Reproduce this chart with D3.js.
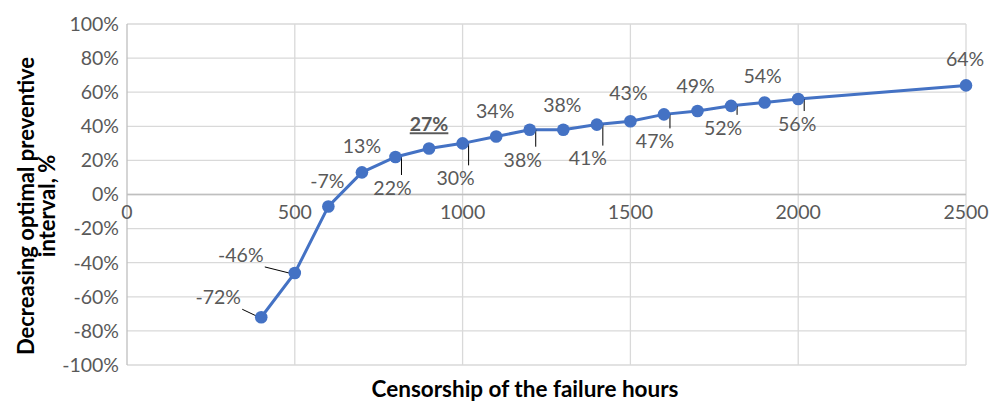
<!DOCTYPE html>
<html><head><meta charset="utf-8">
<script src="https://cdn.jsdelivr.net/npm/d3@7"></script>
<style>body{margin:0;background:#fff}svg{display:block}text{font-family:Lato,Carlito,"Open Sans",sans-serif}</style>
</head><body>
<svg id="c" width="997" height="403"></svg>
<script>
const hours = [400,500,600,700,800,900,1000,1100,1200,1300,1400,1500,1600,1700,1800,1900,2000,2500];
const values = [-72,-46,-7,13,22,27,30,34,38,38,41,43,47,49,52,54,56,64];
const xTicks = [0,500,1000,1500,2000,2500];
const yTicks = [-100,-80,-60,-40,-20,0,20,40,60,80,100];
// label placement: [dx, dy] of label centre relative to point, and whether a leader line is drawn
const labelPos = [[-43,-20,1],[-54,-18,1],[-1,-25,0],[0,-26,0],[-3,31,1],[0,-24,0],[-7,35,1],[-1,-25,0],
  [-7,30,1],[-1,-25,0],[-9,34,1],[-2,-28,0],[-9,27,1],[-2,-25,0],[-8,22,1],[-2,-26,0],[-1,25,1],[-1,-26,0]];

const svg = d3.select("#c");
const L=127,R=966,T=24,B=365;
const x = d3.scaleLinear().domain([0,2500]).range([L,R]);
const y = d3.scaleLinear().domain([-100,100]).range([B,T]);

svg.append("g").selectAll("line").data(yTicks).join("line")
  .attr("x1",L).attr("x2",R).attr("y1",d=>y(d)).attr("y2",d=>y(d))
  .attr("stroke","#d9d9d9").attr("stroke-width",1.3);
svg.append("g").selectAll("line").data(xTicks.slice(1)).join("line")
  .attr("x1",d=>x(d)).attr("x2",d=>x(d)).attr("y1",T).attr("y2",B)
  .attr("stroke","#d9d9d9").attr("stroke-width",1.3);
svg.append("line").attr("x1",L).attr("x2",L).attr("y1",T).attr("y2",B).attr("stroke","#bfbfbf").attr("stroke-width",1.3);
svg.append("line").attr("x1",L).attr("x2",R).attr("y1",y(0)).attr("y2",y(0)).attr("stroke","#bfbfbf").attr("stroke-width",1.5);

svg.append("g").selectAll("text").data(yTicks).join("text")
  .attr("x",L-8).attr("y",d=>y(d)).attr("dy","0.35em").attr("text-anchor","end")
  .attr("font-size",19.5).attr("fill","#595959").text(d=>d+"%");
svg.append("g").selectAll("text").data(xTicks).join("text")
  .attr("x",d=>x(d)).attr("y",y(0)+24).attr("text-anchor","middle")
  .attr("font-size",19.5).attr("fill","#595959").text(d=>d);

svg.append("path").datum(hours.map((h,i)=>[h,values[i]]))
  .attr("d",d3.line().x(d=>x(d[0])).y(d=>y(d[1])))
  .attr("fill","none").attr("stroke","#4472C4").attr("stroke-width",3);

const pts = hours.map((h,i)=>({h,v:values[i],p:labelPos[i],i}));
pts.filter(d=>d.p[2]).forEach(d=>{
  const px=x(d.h), py=y(d.v);
  if (d.p[1] < 0) {
    svg.append("line").attr("x1",px+d.p[0]+24).attr("y1",py+d.p[1]+12).attr("x2",px+2).attr("y2",py+2)
      .attr("stroke","#000").attr("stroke-width",1);
  } else {
    svg.append("line").attr("x1",px+6).attr("y1",py).attr("x2",px+6).attr("y2",py+d.p[1]-13)
      .attr("stroke","#000").attr("stroke-width",1);
  }
});

svg.append("g").selectAll("circle").data(pts).join("circle")
  .attr("cx",d=>x(d.h)).attr("cy",d=>y(d.v)).attr("r",6.3).attr("fill","#4472C4");

svg.append("g").selectAll("text").data(pts).join("text")
  .attr("x",d=>x(d.h)+d.p[0]).attr("y",d=>y(d.v)+d.p[1]).attr("dy","0.35em")
  .attr("text-anchor","middle").attr("font-size",19.5).attr("fill","#595959")
  .attr("font-weight",d=>d.i===5?"bold":null)
  .attr("text-decoration",d=>d.i===5?"underline":null)
  .text(d=>d.v+"%");

svg.append("text").attr("x",525).attr("y",397).attr("text-anchor","middle")
  .attr("font-size",22.5).attr("font-weight","bold").attr("fill","#000").text("Censorship of the failure hours");
const yt = svg.append("text").attr("transform","translate(34,206) rotate(-90)")
  .attr("text-anchor","middle").attr("font-size",22).attr("font-weight","bold").attr("fill","#000");
yt.append("tspan").attr("x",0).attr("y",0).text("Decreasing optimal preventive");
yt.append("tspan").attr("x",0).attr("y",21).text("interval, %");
</script>
</body></html>
